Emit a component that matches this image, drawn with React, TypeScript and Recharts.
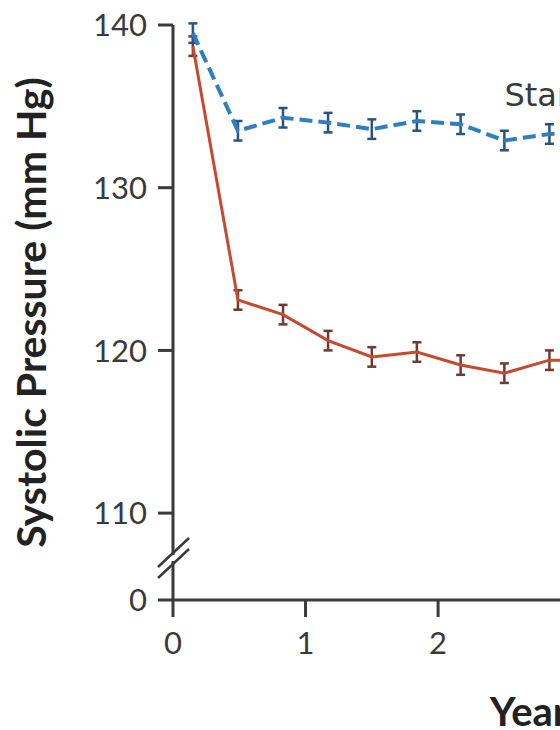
import { LineChart, Line, XAxis, YAxis, ErrorBar, LabelList } from "recharts"

// years since randomization (visits ~every 4 months)
const years = [0.15, 0.49, 0.83, 1.17, 1.5, 1.84, 2.17, 2.5, 2.84, 3.18]
const standard = [139.5, 133.5, 134.3, 134.0, 133.6, 134.1, 133.9, 132.9, 133.3, 133.4]
const standardErr = [0.6, 0.6, 0.6, 0.6, 0.6, 0.6, 0.6, 0.6, 0.6, 0.6]
const intensive = [138.7, 123.1, 122.2, 120.6, 119.6, 119.9, 119.1, 118.6, 119.4, 119.4]
const intensiveErr = [0.6, 0.6, 0.6, 0.6, 0.6, 0.6, 0.6, 0.6, 0.6, 0.6]

// the y axis is broken: its base is drawn as "0"
const axisBase = 104.66
const yTicks = [axisBase, 110, 120, 130, 140]
const xTicks = [0, 1, 2, 3, 4, 5]

const data = years.map((year, i) => ({
  year,
  standard: standard[i],
  standardErr: standardErr[i],
  intensive: intensive[i],
  intensiveErr: intensiveErr[i],
}))

const font = "Lato, 'DejaVu Sans', sans-serif"
const axisColor = "#3a3a3a"
const textColor = "#3a3a3a"
const blue = "#2e7ec4"
const red = "#c64a2f"
const labelIndex = 8

const Y_TICK_SIZE = 15
const Y_TICK_MARGIN = 11

function YTick(props: any) {
  const { x, y, payload } = props
  const isBase = payload.value === axisBase
  const ax = x + Y_TICK_SIZE + Y_TICK_MARGIN
  return (
    <g>
      {isBase && (
        <g>
          <rect x={ax - 4} y={y - 45} width={8} height={6} fill="#ffffff" />
          <line x1={ax - 15} y1={y - 33} x2={ax + 16} y2={y - 62} stroke={axisColor} strokeWidth={2.5} />
          <line x1={ax - 15} y1={y - 22} x2={ax + 16} y2={y - 51} stroke={axisColor} strokeWidth={2.5} />
        </g>
      )}
      <text x={x} y={y} dy="0.36em" textAnchor="end" fontSize={31} fontFamily={font} fill={textColor}>
        {isBase ? "0" : payload.value}
      </text>
    </g>
  )
}

function StandardLabel(props: any) {
  const { x, y, index } = props
  if (index !== labelIndex) return null
  return (
    <text x={x - 45} y={y - 28} fontSize={32} fontFamily="DejaVu Sans" fill={textColor}>
      Standard treatment
    </text>
  )
}

export default function App() {
  return (
    <div style={{ position: "absolute", left: 0, top: 0, width: 560, height: 730, overflow: "hidden", background: "#fff" }}>
      <LineChart width={902} height={730} data={data} margin={{ top: 25, right: 0, bottom: 0, left: 0 }}>
        <XAxis
          type="number"
          dataKey="year"
          domain={[0, 5.5]}
          ticks={xTicks}
          allowDataOverflow
          height={130}
          tickSize={17}
          tickMargin={15}
          stroke={axisColor}
          strokeWidth={3}
          tick={{ fontSize: 31, fontFamily: font, fill: textColor }}
          label={{
            value: "Years",
            position: "insideBottom",
            offset: 4,
            style: { fontSize: 40, fontWeight: 700, fontFamily: font, fill: "#222" },
          }}
        />
        <YAxis
          type="number"
          domain={[axisBase, 140]}
          ticks={yTicks}
          interval={0}
          allowDataOverflow
          width={173}
          tickSize={Y_TICK_SIZE}
          tickMargin={Y_TICK_MARGIN}
          stroke={axisColor}
          strokeWidth={3}
          tick={<YTick />}
          label={{
            value: "Systolic Pressure (mm Hg)",
            angle: -90,
            position: "insideLeft",
            offset: 31,
            style: { textAnchor: "middle", fontSize: 41, fontWeight: 700, fontFamily: font, fill: "#222" },
          }}
        />
        <Line
          dataKey="intensive"
          stroke={red}
          strokeWidth={3}
          dot={false}
          isAnimationActive={false}
        >
          <ErrorBar dataKey="intensiveErr" width={4.5} strokeWidth={2.5} stroke="#6e3a32" direction="y" isAnimationActive={false} />
        </Line>
        <Line
          dataKey="standard"
          stroke={blue}
          strokeWidth={4}
          strokeDasharray="13 6"
          dot={false}
          isAnimationActive={false}
        >
          <ErrorBar dataKey="standardErr" width={4.5} strokeWidth={2.5} stroke="#27537e" direction="y" isAnimationActive={false} />
          <LabelList dataKey="standard" content={<StandardLabel />} />
        </Line>
      </LineChart>
    </div>
  )
}
